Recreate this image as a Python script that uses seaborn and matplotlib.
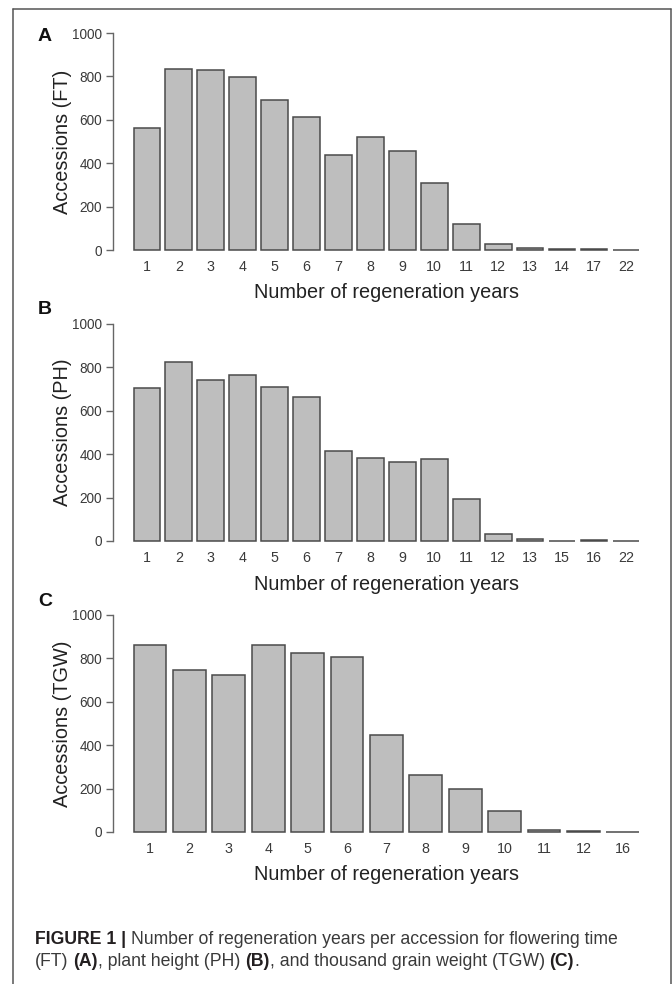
import matplotlib
matplotlib.use("Agg")
import matplotlib.pyplot as plt
import seaborn as sns
import pandas as pd
from matplotlib.lines import Line2D

# ---------------- data ----------------
years_ft = ["1", "2", "3", "4", "5", "6", "7", "8", "9", "10", "11", "12", "13", "14", "17", "22"]
counts_ft = [560, 833, 829, 798, 691, 611, 437, 520, 457, 310, 118, 26, 8, 5, 4, 1]

years_ph = ["1", "2", "3", "4", "5", "6", "7", "8", "9", "10", "11", "12", "13", "15", "16", "22"]
counts_ph = [705, 825, 740, 766, 710, 662, 416, 381, 364, 376, 192, 31, 10, 2, 5, 1]

years_tgw = ["1", "2", "3", "4", "5", "6", "7", "8", "9", "10", "11", "12", "16"]
counts_tgw = [862, 747, 725, 862, 825, 808, 445, 262, 196, 95, 9, 5, 1]

panel_letters = ["A", "B", "C"]
y_labels = ["Accessions (FT)", "Accessions (PH)", "Accessions (TGW)"]
x_label = "Number of regeneration years"
y_ticks = [0, 200, 400, 600, 800, 1000]

caption_line1 = [("FIGURE 1 |", True), ("Number of regeneration years per accession for flowering time", False)]
caption_line2 = [("(FT)", False), ("(A)", True), (", plant height (PH)", False), ("(B)", True),
                 (", and thousand grain weight (TGW)", False), ("(C)", True), (".", False)]

# ---------------- style ----------------
sns.set_theme(style="white")
plt.rcParams['font.family'] = ['Liberation Sans', 'DejaVu Sans']

W, H = 672, 984
fig = plt.figure(figsize=(W / 100, H / 100), dpi=100)
fig.patch.set_facecolor("white")

FILL = "#bebebe"
EDGE = "#4a4a4a"
AXIS = "#666666"
TICKTXT = "#3a3a3a"
LABTXT = "#222222"

panels = [(years_ft, counts_ft), (years_ph, counts_ph), (years_tgw, counts_tgw)]
zero_px = [250, 541, 832]
ppu = 0.217  # px per count unit
ax_left, ax_right = 113.3, 659.5
letter_y = [36.7, 310, 601.7]
xlabel_y = [293, 584, 875]

for i, (yrs, cnts) in enumerate(panels):
    z = zero_px[i]
    top = z - 1040 * ppu
    bot = z + 40 * ppu
    ax = fig.add_axes([ax_left / W, 1 - bot / H, (ax_right - ax_left) / W, (bot - top) / H])
    df = pd.DataFrame({"year": yrs, "count": cnts})
    sns.barplot(data=df, x="year", y="count", order=yrs, color=FILL, saturation=1,
                edgecolor=EDGE, linewidth=1.1, width=1 / 1.2, ax=ax, errorbar=None)
    n = len(yrs)
    span = 1.2 * n - 0.2
    ext = 0.04 * span
    ax.set_xlim((0.2 - ext - 0.7) / 1.2, (1.2 * n + ext - 0.7) / 1.2)
    ax.set_ylim(-40, 1040)
    ax.set_facecolor("white")
    for s in ["top", "right", "bottom"]:
        ax.spines[s].set_visible(False)
    ax.spines["left"].set_color(AXIS)
    ax.spines["left"].set_linewidth(1.0)
    ax.spines["left"].set_bounds(0, 1000)
    ax.set_yticks(y_ticks)
    ax.set_yticklabels([str(v) for v in y_ticks])
    ax.tick_params(axis="y", direction="out", length=5, width=1.0, color=AXIS,
                   labelsize=9.8, labelcolor=TICKTXT, pad=3.3, left=True)
    ax.tick_params(axis="x", length=0, labelsize=10.3, labelcolor=TICKTXT, pad=1.0)
    ax.grid(False)
    ax.set_ylabel(y_labels[i], fontsize=14.3, color=LABTXT)
    ax.yaxis.set_label_coords((63 - ax_left) / (ax_right - ax_left), 0.5)
    ax.yaxis.label.set_va("center")
    ax.set_xlabel(x_label, fontsize=14.3, color=LABTXT)
    ax.xaxis.label.set_va("center")
    ax.xaxis.set_label_coords(0.5, (bot - xlabel_y[i]) / (bot - top))
    fig.text(45 / W, 1 - letter_y[i] / H, panel_letters[i], fontsize=14, fontweight="bold",
             ha="center", va="center", color="#111111")

# ---------------- frame ----------------
fx0, fx1, fy0 = 13.3, 670.5, 9
for xs, ys in [((fx0, fx0), (fy0, H)), ((fx1, fx1), (fy0, H)), ((fx0, fx1), (fy0, fy0))]:
    fig.add_artist(Line2D([x / W for x in xs], [1 - y / H for y in ys], color="#555555", lw=1.1))

# ---------------- caption ----------------
renderer = fig.canvas.get_renderer()
CAPSIZE = 12.7


def text_width(s, bold):
    t = fig.text(0, 0, s, fontsize=CAPSIZE, fontweight="bold" if bold else "normal")
    w = t.get_window_extent(renderer=renderer).width
    t.remove()
    return w


space_w = text_width("a a", False) - text_width("aa", False)


def place_runs(x, y, parts):
    for k, (s, bold) in enumerate(parts):
        t = fig.text(x / W, 1 - y / H, s, fontsize=CAPSIZE, fontweight="bold" if bold else "normal",
                     ha="left", va="center", color="#231f20" if bold else "#3a3a3a")
        x += t.get_window_extent(renderer=renderer).width
        if k + 1 < len(parts) and not parts[k + 1][0].startswith((",", ".")):
            x += space_w


place_runs(35, 939, caption_line1)
place_runs(35, 962, caption_line2)

fig.savefig("out.png", dpi=100, facecolor="white")
